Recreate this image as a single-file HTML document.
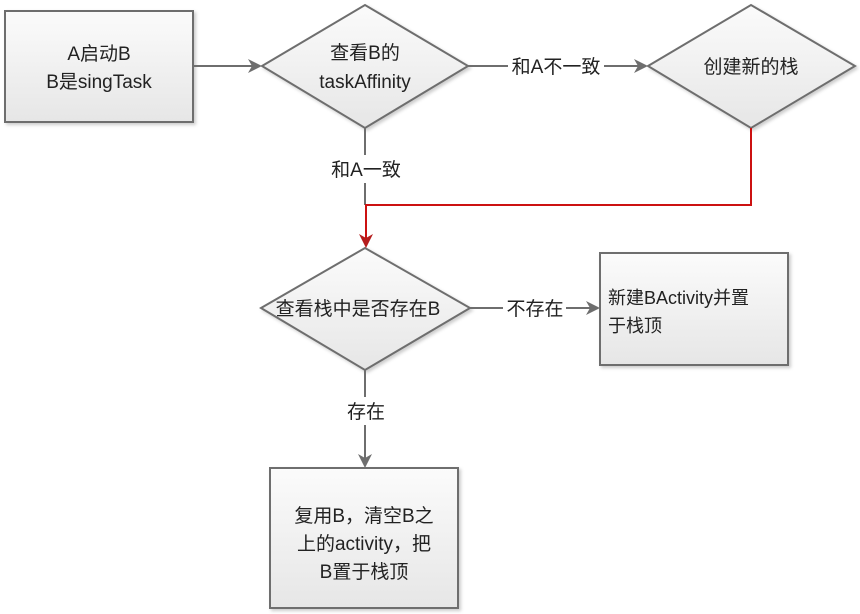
<!DOCTYPE html>
<html><head><meta charset="utf-8"><style>
html,body{margin:0;padding:0;background:#fff;}
svg{display:block;}
text{font-family:"Liberation Sans","Noto Sans CJK SC",sans-serif;font-size:19px;fill:#222;}
</style></head><body>
<svg width="860" height="614" viewBox="0 0 860 614" xmlns="http://www.w3.org/2000/svg">
<defs>
<linearGradient id="g" x1="0" y1="0" x2="0" y2="1"><stop offset="0" stop-color="#fbfbfb"/><stop offset="1" stop-color="#e6e6e6"/></linearGradient>
<filter id="s" x="-10%" y="-10%" width="130%" height="130%"><feDropShadow dx="2" dy="2" stdDeviation="1.5" flood-color="#000" flood-opacity="0.2"/></filter>
</defs>
<g stroke="#6e6e6e" stroke-width="2" fill="url(#g)" filter="url(#s)">
<rect x="5" y="11" width="188" height="111"/>
<polygon points="262,66 365,5 468,66 365,128"/>
<polygon points="648,66 751,5 855,66 751,128"/>
<polygon points="261,308 365,248 470,308 365,370"/>
<rect x="600" y="253" width="188" height="112"/>
<rect x="270" y="468" width="188" height="140"/>
</g>
<g stroke="#6e6e6e" stroke-width="2" fill="none">
<line x1="193" y1="66" x2="255" y2="66"/>
<line x1="468" y1="66" x2="508" y2="66"/>
<line x1="604" y1="66" x2="640" y2="66"/>
<line x1="365" y1="128" x2="365" y2="155"/>
<line x1="365" y1="183" x2="365" y2="205"/>
<line x1="470" y1="308" x2="503" y2="308"/>
<line x1="566" y1="308" x2="592" y2="308"/>
<line x1="365" y1="370" x2="365" y2="397"/>
<line x1="365" y1="425" x2="365" y2="460"/>
</g>
<polyline points="751,128 751,205 366,205 366,240" stroke="#cc1111" stroke-width="2" fill="none"/>
<g fill="#6e6e6e">
<polygon points="262,66 248,59 252,66 248,73"/>
<polygon points="648,66 634,59 638,66 634,73"/>
<polygon points="600,308 586,301 590,308 586,315"/>
<polygon points="365,468 358,454 365,458 372,454"/>
</g>
<polygon points="366,248 359,234 366,238 373,234" fill="#b51c1c"/>
<g text-anchor="middle">
<text x="99" y="60">A启动B</text>
<text x="99" y="88">B是singTask</text>
<text x="365" y="59">查看B的</text>
<text x="365" y="88">taskAffinity</text>
<text x="556" y="73">和A不一致</text>
<text x="751" y="73">创建新的栈</text>
<text x="366" y="176">和A一致</text>
<text x="358" y="315">查看栈中是否存在B</text>
<text x="535" y="315">不存在</text>
<text x="366" y="418">存在</text>
<text x="364" y="522">复用B，清空B之</text>
<text x="364" y="550">上的activity，把</text>
<text x="364" y="578">B置于栈顶</text>
</g>
<text x="608" y="304" style="font-size:18px">新建BActivity并置</text>
<text x="608" y="332" style="font-size:18px">于栈顶</text>
</svg>
</body></html>
